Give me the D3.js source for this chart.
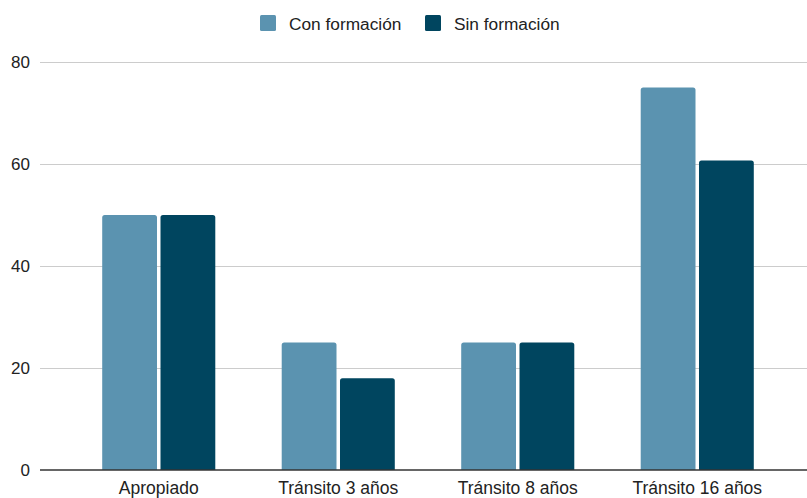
<!DOCTYPE html>
<html><head><meta charset="utf-8">
<script src="https://cdn.jsdelivr.net/npm/d3@7"></script>
<style>body{margin:0;background:#fff;}svg{display:block;font-family:"Liberation Sans",Arial,sans-serif;}</style>
</head><body>
<svg id="c" width="807" height="498"></svg>
<script>
const categories = ["Apropiado","Tránsito 3 años","Tránsito 8 años","Tránsito 16 años"];
const seriesNames = ["Con formación","Sin formación"];
const conFormacion = [50,25,25,75];
const sinFormacion = [50,18,25,60.7];
const yTicks = [0,20,40,60,80];
const colors = ["#5b93b0","#00455f"];

const svg = d3.select("#c");
const x0 = d3.scaleBand().domain(categories).range([69,787]).paddingInner(0.37).paddingOuter(0.185);
const x1 = d3.scaleBand().domain(seriesNames).range([0,x0.bandwidth()]).paddingInner(0.06);
const y = d3.scaleLinear().domain([0,80]).range([470,62]);

svg.append("g").selectAll("line").data(yTicks.filter(d=>d>0)).join("line")
  .attr("x1",40).attr("x2",807).attr("y1",d=>y(d)).attr("y2",d=>y(d))
  .attr("stroke","#cccccc").attr("stroke-width",1).attr("shape-rendering","crispEdges");

svg.append("g").selectAll("text").data(yTicks).join("text")
  .attr("x",30).attr("y",d=>y(d)+6).attr("text-anchor","end")
  .attr("font-size",17).attr("fill","#222").text(d=>d);

const data = categories.map((c,i)=>({c, vals:[conFormacion[i],sinFormacion[i]]}));
const g = svg.append("g").selectAll("g").data(data).join("g")
  .attr("transform",d=>`translate(${x0(d.c)},0)`);
g.selectAll("path").data(d=>d.vals.map((v,j)=>({v,s:seriesNames[j],j}))).join("path")
  .attr("fill",d=>colors[d.j])
  .attr("d",d=>{
    const xx=x1(d.s), w=x1.bandwidth(), yy=y(d.v), r=2.5;
    return `M${xx},${y(0)}V${yy+r}Q${xx},${yy} ${xx+r},${yy}H${xx+w-r}Q${xx+w},${yy} ${xx+w},${yy+r}V${y(0)}Z`;
  });

svg.append("line").attr("x1",40).attr("x2",807).attr("y1",y(0)).attr("y2",y(0))
  .attr("stroke","#333").attr("stroke-width",1.3);

svg.append("g").selectAll("text").data(categories).join("text")
  .attr("x",d=>x0(d)+x0.bandwidth()/2).attr("y",494).attr("text-anchor","middle")
  .attr("font-size",17.5).attr("fill","#222").text(d=>d);

const leg = [{x:260,tx:289},{x:425,tx:454}];
seriesNames.forEach((s,i)=>{
  svg.append("rect").attr("x",leg[i].x).attr("y",15).attr("width",16).attr("height",16).attr("rx",1.5).attr("fill",colors[i]);
  svg.append("text").attr("x",leg[i].tx).attr("y",29.5).attr("font-size",17.3).attr("fill","#222").text(s);
});
</script>
</body></html>
